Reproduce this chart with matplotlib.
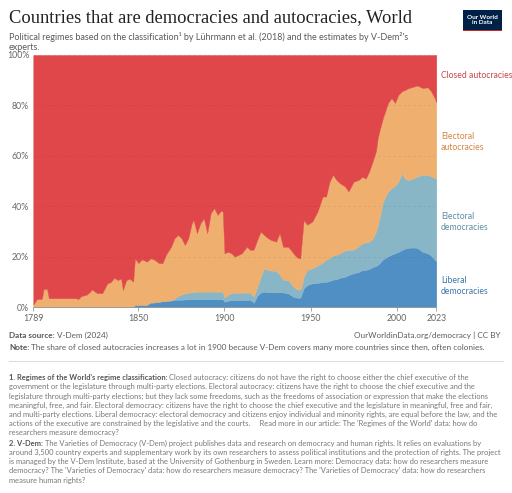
import numpy as np
import matplotlib.pyplot as plt
from matplotlib.patches import Rectangle
from matplotlib.lines import Line2D

# share of countries (%) by regime type
years = [1789, 1791, 1794, 1795, 1797, 1798, 1805, 1814, 1815, 1817, 1820, 1822, 1823,
         1826, 1829, 1832, 1834, 1836, 1838, 1840, 1841, 1843, 1845, 1847, 1848, 1850,
         1852, 1855, 1857, 1859, 1862, 1864, 1866, 1869, 1871, 1873, 1875, 1877, 1879,
         1881, 1882, 1884, 1886, 1888, 1890, 1892, 1894, 1896, 1898, 1899, 1900, 1902,
         1904, 1906, 1910, 1913, 1915, 1917, 1919, 1921, 1923, 1925, 1927, 1930, 1932,
         1934, 1937, 1940, 1942, 1944, 1945, 1946, 1948, 1951, 1954, 1957, 1959, 1961,
         1963, 1965, 1967, 1970, 1972, 1975, 1978, 1980, 1982, 1984, 1986, 1988, 1989,
         1990, 1992, 1995, 1997, 1999, 2001, 2003, 2005, 2007, 2010, 2012, 2015, 2018,
         2020, 2022, 2023]
liberal = [0, 0, 0, 0, 0, 0, 0, 0, 0, 0, 0, 0, 0,
           0, 0, 0, 0, 0, 0, 0, 0, 0, 0, 0, 1.0, 1.0,
           1.0, 1.0, 1.9, 1.9, 2.2, 2.4, 2.6, 2.7, 2.9, 3.0, 3.0, 3.1, 3.1,
           3.2, 3.2, 3.2, 3.2, 3.2, 3.2, 3.2, 3.2, 3.2, 3.2, 3.2, 2.2, 2.6,
           2.8, 2.9, 2.9, 2.9, 3.0, 1.8, 4.5, 5.8, 6.2, 6.0, 6.0, 6.0, 6.0,
           5.9, 5.5, 4.2, 3.8, 3.8, 5.6, 7.5, 8.8, 9.5, 9.7, 10.0, 10.1, 10.4,
           11.0, 11.1, 11.7, 12.1, 12.8, 13.5, 14.0, 14.8, 14.8, 15.2, 15.9, 16.4, 16.8,
           17.5, 19.0, 20.2, 20.9, 21.4, 22.0, 22.7, 23.3, 23.6, 23.7, 23.5, 22.0, 21.4,
           20.5, 19.0, 18.1]
electoral_dem = [0, 0, 0, 0, 0, 0, 0, 0, 0, 0, 0, 0, 0,
                 0, 0, 0, 0, 0, 0, 0, 0, 0, 0, 0, 0, 0,
                 0, 0, 0, 0, 0, 0, 0, 0, 0.6, 1.5, 2.0, 2.4, 2.7,
                 2.8, 2.8, 3.0, 3.0, 3.0, 3.0, 3.0, 3.0, 3.0, 3.0, 3.0, 1.6, 2.4,
                 2.8, 2.9, 2.9, 2.9, 2.8, 2.4, 3.5, 6.2, 9.3, 8.8, 8.6, 8.4, 7.0,
                 5.1, 5.3, 4.0, 3.4, 3.2, 3.2, 4.6, 6.0, 6.0, 6.8, 7.8, 8.7, 9.2,
                 9.5, 9.7, 9.7, 10.4, 9.9, 9.4, 10.2, 10.6, 10.9, 10.8, 11.3, 13.6, 15.7,
                 17.8, 22.9, 25.7, 26.3, 26.8, 27.8, 30.5, 27.5, 26.9, 27.5, 28.3, 30.5, 31.1,
                 31.5, 32.2, 33.1]
electoral_aut = [1.0, 3.2, 3.4, 7.3, 7.2, 3.6, 3.6, 3.6, 3.2, 4.5, 5.0, 6.2, 7.1,
                 5.6, 5.6, 9.5, 10.0, 11.7, 10.8, 11.4, 6.9, 10.8, 11.3, 10.2, 18.4, 16.5,
                 18.0, 17.1, 17.5, 17.1, 15.3, 15.1, 18.2, 21.3, 23.9, 24.2, 22.4, 19.2, 21.6,
                 27.3, 28.6, 23.2, 27.1, 29.1, 23.2, 31.1, 33.1, 30.4, 32.1, 31.7, 17.6, 17.0,
                 15.8, 14.3, 15.6, 18.2, 16.9, 18.7, 18.7, 18.0, 13.2, 12.7, 12.1, 11.6, 16.4,
                 13.0, 13.2, 13.2, 12.6, 12.4, 18.2, 22.5, 17.9, 18.5, 21.4, 26.1, 25.1, 30.2,
                 32.0, 29.7, 27.8, 25.4, 23.2, 26.9, 26.3, 26.4, 25.3, 27.8, 30.6, 32.0, 34.6,
                 34.7, 33.1, 35.1, 35.7, 32.8, 34.4, 32.4, 35.4, 36.4, 36.3, 36.1, 34.4, 34.7,
                 33.6, 31.8, 30.1]
closed = 100 - np.array(liberal) - np.array(electoral_dem) - np.array(electoral_aut)

labels = ["Liberal\ndemocracies", "Electoral\ndemocracies",
          "Electoral\nautocracies", "Closed autocracies"]
colors = ["#4f8fc4", "#88b6c6", "#efb06f", "#e0474b"]
label_colors = ["#3d77ad", "#5c8fa4", "#d58543", "#c8474c"]

W, H = 512, 493
fig = plt.figure(figsize=(W / 100, H / 100), dpi=100)
plt.rcParams['font.family'] = ['Lato', 'DejaVu Sans']


def fx(x):
    return x / W


def fy(y):
    return 1 - y / H


def bold_lead(x, y, lead, rest, fs, c_lead, c_rest):
    # bold start of a line, regular text right after it
    t = fig.text(fx(x), fy(y), lead, fontsize=fs, color=c_lead, fontweight='bold',
                 va='center')
    fig.canvas.draw()
    bb = t.get_window_extent()
    fig.text(fx(bb.x1 + 1.8), fy(y), rest, fontsize=fs, color=c_rest, va='center')


x0, x1, y0, y1 = 33.3, 436.3, 55, 307.3
ax = fig.add_axes([fx(x0), fy(y1), (x1 - x0) / W, (y1 - y0) / H])
ax.stackplot(years, liberal, electoral_dem, electoral_aut, closed,
             colors=colors, edgecolor='face', linewidth=0.3)
ax.set_xlim(1789, 2023)
ax.set_ylim(0, 100)
ax.set_yticks(range(0, 101, 20))
ax.set_yticklabels([f"{v}%" for v in range(0, 101, 20)])
ax.set_xticks([1789, 1850, 1900, 1950, 2000, 2023])
ax.tick_params(axis='y', length=0, labelsize=6.3, labelcolor='#666666', pad=3)
ax.tick_params(axis='x', length=3, width=0.6, color='#999999', labelsize=6.3,
               labelcolor='#666666', pad=2)
for s in ['top', 'right', 'left']:
    ax.spines[s].set_visible(False)
ax.spines['bottom'].set_color('#999999')
ax.spines['bottom'].set_linewidth(0.6)
for v in range(20, 101, 20):
    ax.axhline(v, color='#000000', alpha=0.07, lw=0.6, ls=(0, (3, 3)), zorder=5)

# series labels on the right
lab_y = [286, 222, 142, 75]
for txt, c, yy in zip(labels, label_colors, lab_y):
    fig.text(fx(441), fy(yy), txt, color=c, fontsize=6.2, va='center', ha='left',
             linespacing=1.15)

# header
fig.text(fx(9), fy(18), "Countries that are democracies and autocracies, World",
         family='Liberation Serif', fontsize=13.3, color='#222222', va='center')
fig.text(fx(9), fy(37), "Political regimes based on the classification¹ by Lührmann et al. (2018) "
         "and the estimates by V-Dem²'s", fontsize=6.5, color='#5b5b5b', va='center')
fig.text(fx(9), fy(47), "experts.", fontsize=6.5, color='#5b5b5b', va='center')

# logo
fig.patches.append(Rectangle((fx(463), fy(31)), 39 / W, 21 / H, transform=fig.transFigure,
                             facecolor='#002147', edgecolor='none'))
fig.patches.append(Rectangle((fx(463), fy(31)), 39 / W, 1.2 / H, transform=fig.transFigure,
                             facecolor='#ce261e', edgecolor='none'))
fig.text(fx(482.5), fy(20), "Our World\nin Data", color='white', fontsize=4.6,
         fontweight='bold', ha='center', va='center', linespacing=1.0)

# footer
bold_lead(9, 335.5, "Data source:", "V-Dem (2024)", 5.9, '#555555', '#5b5b5b')
fig.text(fx(501), fy(335.5), "OurWorldinData.org/democracy | CC BY", fontsize=5.9,
         color='#5b5b5b', va='center', ha='right')
bold_lead(9, 347, "Note:", "The share of closed autocracies increases a lot in 1900 because "
          "V-Dem covers many more countries since then, often colonies.", 5.9,
          '#555555', '#5b5b5b')
fig.lines.append(Line2D([fx(9), fx(503)], [fy(361), fy(361)], transform=fig.transFigure,
                        color='#dddddd', lw=0.8))

para1 = ["government or the legislature through multi-party elections. Electoral autocracy: "
         "citizens have the right to choose the chief executive and the",
         "legislature through multi-party elections; but they lack some freedoms, such as the "
         "freedoms of association or expression that make the elections",
         "meaningful, free, and fair. Electoral democracy: citizens have the right to choose the "
         "chief executive and the legislature in meaningful, free and fair,",
         "and multi-party elections. Liberal democracy: electoral democracy and citizens enjoy "
         "individual and minority rights, are equal before the law, and the",
         "actions of the executive are constrained by the legislative and the courts.     "
         "Read more in our article: The 'Regimes of the World' data: how do",
         "researchers measure democracy?"]
para2 = ["around 3,500 country experts and supplementary work by its own researchers to assess "
         "political institutions and the protection of rights. The project",
         "is managed by the V-Dem Institute, based at the University of Gothenburg in Sweden. "
         "Learn more: Democracy data: how do researchers measure",
         "democracy? The 'Varieties of Democracy' data: how do researchers measure democracy? "
         "The 'Varieties of Democracy' data: how do researchers",
         "measure human rights?"]
fs = 5.4
gray = '#777777'
bold_lead(9, 377.5, "1. Regimes of the World's regime classification:",
          "Closed autocracy: citizens do not have the right to choose either the chief "
          "executive of the", fs, '#555555', gray)
for i, line in enumerate(para1):
    fig.text(fx(9), fy(387 + i * 9.2), line, fontsize=fs, color=gray, va='center')
bold_lead(9, 443.3, "2. V-Dem:", "The Varieties of Democracy (V-Dem) project publishes "
          "data and research on democracy and human rights. It relies on evaluations by",
          fs, '#555555', gray)
for i, line in enumerate(para2):
    fig.text(fx(9), fy(452.6 + i * 9.2), line, fontsize=fs, color=gray, va='center')

fig.savefig("out.png", dpi=100)
